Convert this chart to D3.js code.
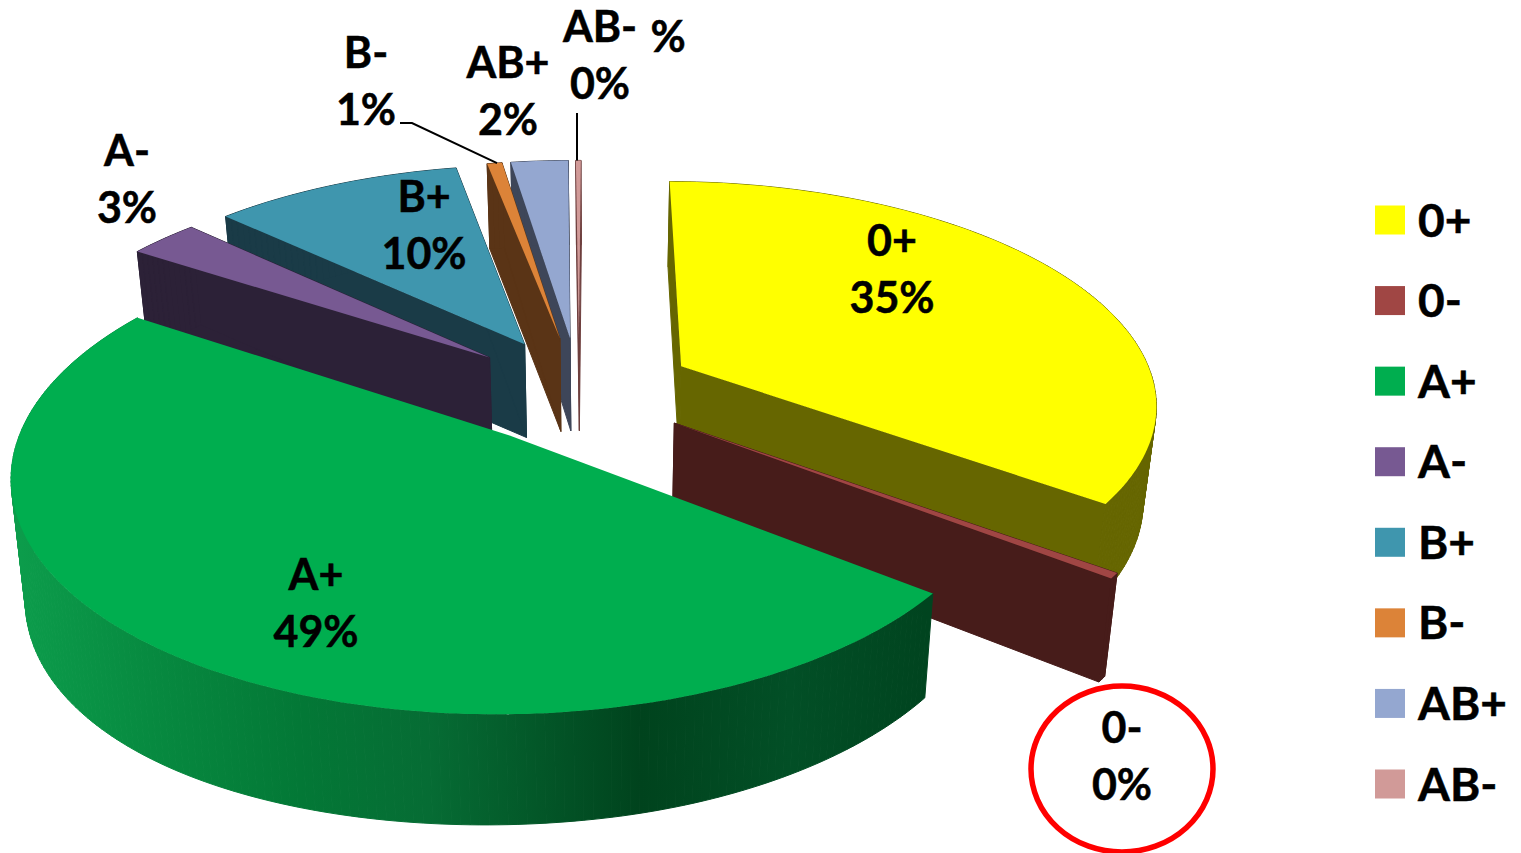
<!DOCTYPE html>
<html><head><meta charset="utf-8">
<script src="https://cdn.jsdelivr.net/npm/d3@7/dist/d3.min.js"></script>
<style>html,body{margin:0;padding:0;background:#fff;overflow:hidden}
text{font-family:Lato,"Open Sans",sans-serif;font-weight:700;fill:#000;stroke:#000;stroke-width:0.5}</style>
</head><body><svg id="c" width="1521" height="853"></svg>
<script>
const categories=["0+","0-","A+","A-","B+","B-","AB+","AB-"];
const values=[35,0.38,48.82,2.8,10,0.6,2.3,0.2];
const percentLabels=["35%","0%","49%","3%","10%","1%","2%","0%"];
const topColors=["#ffff00","#a04644","#00ae4f","#775992","#3f96ae","#dc8338","#94a7d0","#d19a98"];
const wallColors=["#666600","#471c1a",null,"#2c2137","#1a3b47","#5a3416","#3e4659","#6e3f3e"];
const drawOrder=[7,6,5,4,3,0,1,2];
const gradStops=[[20,"#0c9c4b"],[150,"#078a40"],[300,"#037836"],[430,"#066c34"],[640,"#00431d"],[790,"#024f26"],[925,"#00441f"]];

// camera
const cx=579,cy=390,F=475,G=220,k=0.155,explode=0.245;
const vx=600,hA=77,hB=0.046,bottomScale=0.976,leftDrop=20,leftSpan=572;
const sx=(X,Y)=>cx+F*X/(1-k*Y), sy=(X,Y)=>cy+G*Y/(1-k*Y);
const fontSize=43,legendFont=46,lineGap=57;
const labelAt=[[892,241],[1122,728],[316,575],[127,151],[424,197],[366,53],[508,63],[600,27]];

const svg=d3.select("#c");
const defs=svg.append("defs");
defs.append("linearGradient").attr("id","apl").attr("gradientUnits","userSpaceOnUse")
  .attr("x1",20).attr("x2",925).attr("y1",0).attr("y2",0)
  .selectAll("stop").data(gradStops).join("stop")
  .attr("offset",d=>(d[0]-20)/905).attr("stop-color",d=>d[1]);

const arcs=d3.pie().sort(null).startAngle(0.005).endAngle(2*Math.PI+0.005)(values);
const line=d3.line().x(d=>d[0]).y(d=>d[1]);
const bottom=p=>{
  const u=Math.max(0,(vx-p[0])/leftSpan);
  return [vx+(p[0]-vx)*bottomScale,p[1]+hA+hB*p[1]+leftDrop*u*u];
};
function geom(a){
  const mid=(a.startAngle+a.endAngle)/2, ox=explode*Math.sin(mid), oy=-explode*Math.cos(mid);
  const P=t=>{const X=ox+Math.sin(t),Y=oy-Math.cos(t);return [sx(X,Y),sy(X,Y)]};
  const n=Math.max(2,Math.ceil((a.endAngle-a.startAngle)*60));
  const rim=d3.range(n+1).map(i=>P(a.startAngle+(a.endAngle-a.startAngle)*i/n));
  return {apex:[sx(ox,oy),sy(ox,oy)],rim};
}
const g=svg.append("g");
drawOrder.forEach(i=>{
  const a=arcs[i],{apex,rim}=geom(a),wall=wallColors[i]||"url(#apl)",slice=g.append("g");
  const quad=(p,q)=>slice.append("path").attr("d",line([p,q,bottom(q),bottom(p)])+"Z")
    .attr("fill",wall).attr("stroke",wall).attr("stroke-width",1);
  if(i!==2){quad(apex,rim[0]);quad(apex,rim[rim.length-1]);}
  d3.pairs(rim).forEach(([p,q])=>quad(p,q));
  slice.append("path").attr("d",line([apex].concat(rim))+"Z").attr("fill",topColors[i]);
});

// leader lines
const geoB=geom(arcs[5]),geoAB=geom(arcs[7]);
const rimMid=r=>r[Math.floor(r.length/2)];
svg.append("path").attr("fill","none").attr("stroke","#000").attr("stroke-width",2)
  .attr("d",line([[400,123],[412,123],rimMid(geoB.rim)]));
svg.append("path").attr("fill","none").attr("stroke","#000").attr("stroke-width",2)
  .attr("d",line([[577,113],[577,rimMid(geoAB.rim)[1]]]));

// data labels
const lab=svg.append("g").attr("font-size",fontSize).attr("text-anchor","middle");
categories.forEach((c,i)=>{
  const t=lab.append("g").attr("transform",`translate(${labelAt[i][0]},${labelAt[i][1]})`);
  t.append("text").attr("dy","0.36em").text(c);
  t.append("text").attr("y",lineGap).attr("dy","0.36em").text(percentLabels[i]);
});
svg.append("text").attr("x",668).attr("y",37).attr("dy","0.36em").attr("text-anchor","middle").attr("font-size",fontSize).text("%");

// red annotation
svg.append("ellipse").attr("cx",1122).attr("cy",769).attr("rx",91).attr("ry",83)
  .attr("fill","none").attr("stroke","#ff0000").style("stroke-width",5.5);

// legend
const ly=d3.scalePoint().domain(categories).range([220,784]);
const leg=svg.append("g").selectAll("g").data(categories).join("g")
  .attr("transform",d=>`translate(1375,${ly(d)})`);
leg.append("rect").attr("x",0).attr("y",-14.5).attr("width",30).attr("height",29)
  .attr("fill",(d,i)=>topColors[i]);
leg.append("text").attr("x",43).attr("dy","0.36em").attr("font-size",legendFont).text(d=>d);
</script></body></html>
